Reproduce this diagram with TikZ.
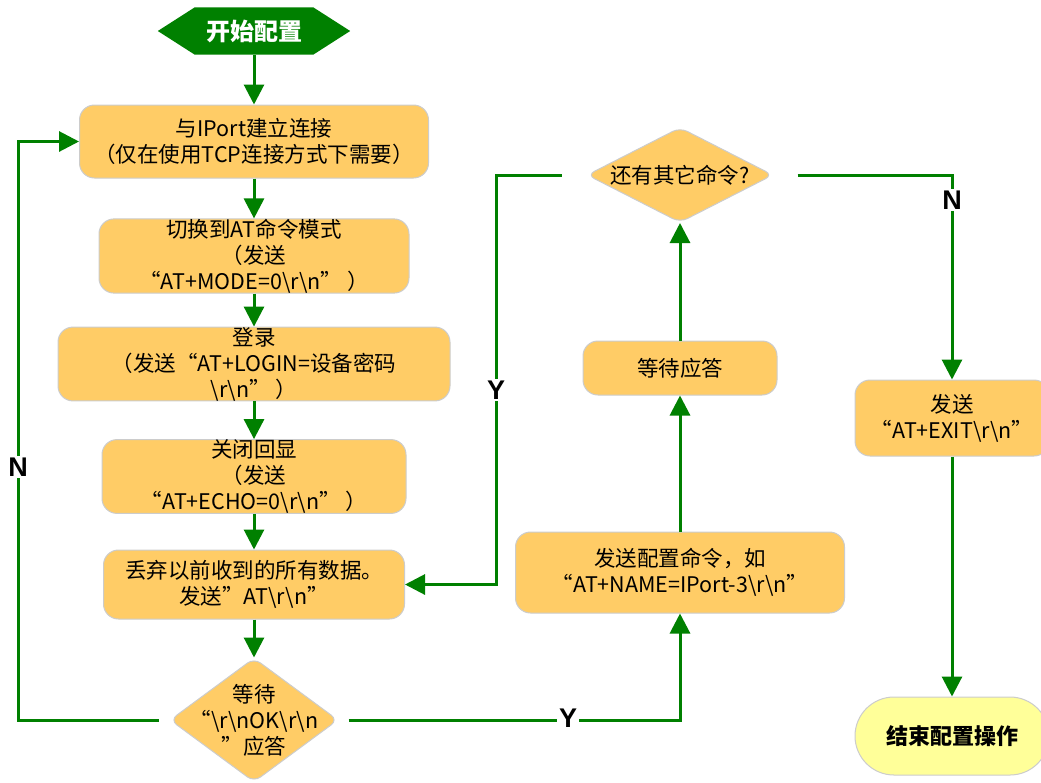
\documentclass[tikz,border=0pt]{standalone}
\usepackage{fontspec}
\setmainfont{Noto Sans CJK SC}
\newfontfamily\lblfont{Liberation Sans}
\usetikzlibrary{arrows.meta,shapes.geometric,shapes.misc,backgrounds,calc}
\definecolor{flowgreen}{RGB}{0,128,0}
\definecolor{boxfill}{RGB}{255,204,102}
\definecolor{endfill}{RGB}{255,255,153}
\definecolor{boxline}{RGB}{204,204,204}
\newcommand\BSx{\textbackslash}
\begin{document}
\begin{tikzpicture}[x=1pt,y=-1pt,
  box/.style={draw=boxline, line width=1pt, fill=boxfill, rounded corners=15pt,
    align=center, font=\fontsize{21.5}{26}\selectfont, inner sep=0pt},
  dia/.style={draw=boxline, line width=1pt, fill=boxfill, diamond,
    rounded corners=8pt, inner sep=0pt},
  txt/.style={align=center, font=\fontsize{21.5}{26}\selectfont, inner sep=0pt},
  flow/.style={draw=flowgreen, line width=3pt, -{Triangle[length=20pt,width=20pt]}},
  yn/.style={fill=white, font=\lblfont\bfseries\fontsize{27}{27}\selectfont, inner sep=2pt},
]
\useasboundingbox (0,0) rectangle (1041,782);

% start
\node[minimum width=192pt, minimum height=47pt, inner sep=0pt, text=white,
  font=\bfseries\fontsize{24}{24}\selectfont] (start) at (254,31) {开始配置};
\begin{scope}[on background layer]
  \fill[white] (0,0) rectangle (1041,782);
  \fill[flowgreen] (start.west) -- ($(start.north west)+(37,0)$) -- ($(start.north east)+(-37,0)$)
    -- (start.east) -- ($(start.south east)+(-37,0)$) -- ($(start.south west)+(37,0)$) -- cycle;
\end{scope}

% left column
\node[box, minimum width=349pt, minimum height=73pt] (b1) at (254,141.5)
  {与IPort建立连接\\（仅在使用TCP连接方式下需要）};
\node[box, minimum width=310pt, minimum height=60pt] (b2) at (254,256)
  {切换到AT命令模式\\（发送\\“AT+MODE=0\BSx r\BSx n”\ ）};
\node[box, minimum width=392pt, minimum height=70pt] (b3) at (254,364)
  {登录\\（发送“AT+LOGIN=设备密码\\\BSx r\BSx n”\ ）};
\node[box, minimum width=304pt, minimum height=69pt] (b4) at (254,476.5)
  {关闭回显\\（发送\\“AT+ECHO=0\BSx r\BSx n”\ ）};
\node[box, minimum width=301pt, minimum height=69pt] (b5) at (254,584.5)
  {丢弃以前收到的所有数据。\\发送”AT\BSx r\BSx n”};
\node[dia, minimum width=168pt, minimum height=124pt,
  label={[txt]center:{等待\\“\BSx r\BSx nOK\BSx r\BSx n\\”应答}}] (d1) at (254,720) {};

% middle column
\node[box, minimum width=329pt, minimum height=81pt] (b6) at (680,572.5)
  {发送配置命令，如\\“AT+NAME=IPort-3\BSx r\BSx n”};
\node[box, minimum width=194pt, minimum height=54pt] (b7) at (680,368) {等待应答};
\node[dia, minimum width=186pt, minimum height=95pt,
  label={[txt]center:{还有其它命令?}}] (d2) at (680,175) {};

% right column
\node[box, minimum width=194pt, minimum height=76pt] (b8) at (952,418)
  {发送\\“AT+EXIT\BSx r\BSx n”};
\node[draw=boxline, line width=1pt, fill=endfill, rounded rectangle,
  minimum width=194pt, minimum height=78pt, inner sep=0pt,
  font=\bfseries\fontsize{22}{22}\selectfont] (finish) at (952,736) {结束配置操作};

% coordinates for bends
\coordinate (nloop) at (18,720);
\coordinate (yturn) at (496,175);

% connectors
\draw[flow] (start.south) -- (b1.north);
\draw[flow] (b1.south) -- (b2.north);
\draw[flow] (b2.south) -- (b3.north);
\draw[flow] (b3.south) -- (b4.north);
\draw[flow] (b4.south) -- (b5.north);
\draw[flow] (b5.south) -- (d1.north);
\draw[flow] ([xshift=-11pt]d1.west) -- (nloop) |- (b1.west);
\draw[flow] ([xshift=10pt]d1.east) -| (b6.south);
\draw[flow] (b6.north) -- (b7.south);
\draw[flow] (b7.north) -- (d2.south);
\draw[flow] ([xshift=-25pt]d2.west) -- (yturn) |- (b5.east);
\draw[flow] ([xshift=24pt]d2.east) -| (b8.north);
\draw[flow] (b8.south) -- (finish.north);

% labels
\node[yn] (lN1) at (18,467) {N};
\node[yn] (lY1) at (568,718) {Y};
\node[yn] (lY2) at (496,390) {Y};
\node[yn] (lN2) at (952,200) {N};
\end{tikzpicture}
\end{document}
